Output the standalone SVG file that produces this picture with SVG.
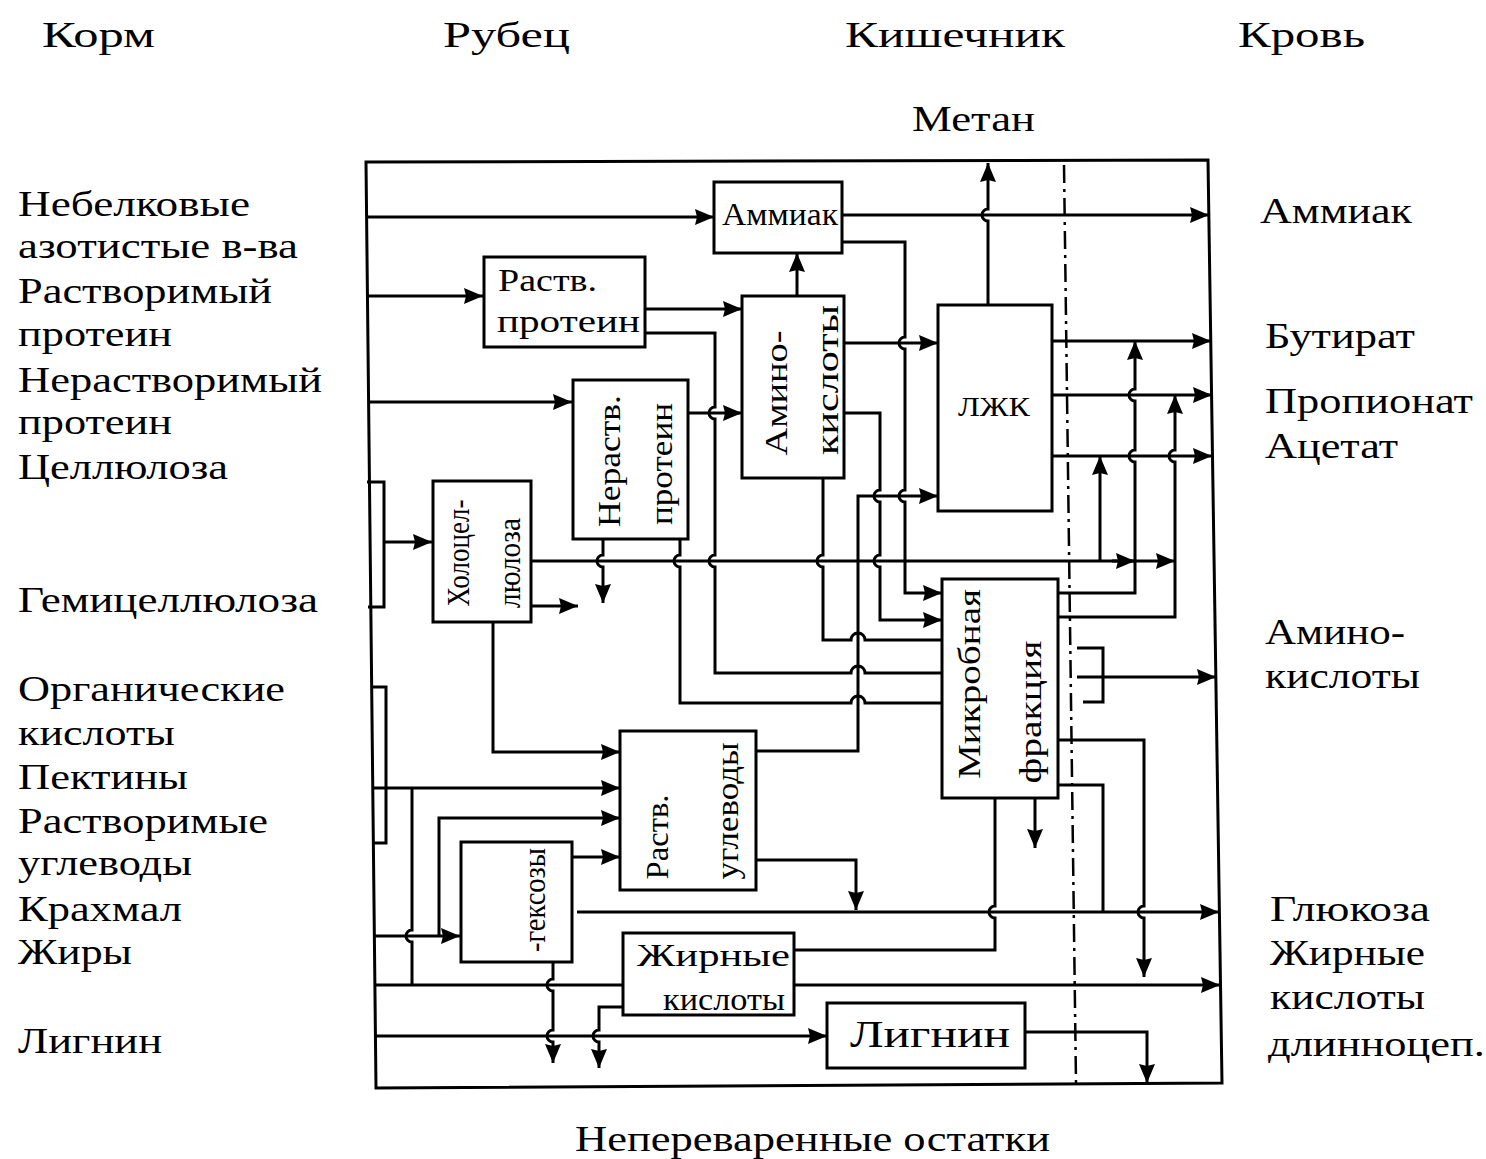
<svg xmlns="http://www.w3.org/2000/svg" width="1486" height="1159" viewBox="0 0 1486 1159">
<style>
text{font-family:"Liberation Serif","Times New Roman",serif;fill:#000}
.lbl{font-size:36px}
.bx{font-size:32px}
.box{fill:#fff;stroke:#000;stroke-width:3}
.c{fill:none;stroke:#000;stroke-width:3;stroke-linejoin:miter}
.a{marker-end:url(#ah)}
.frame{fill:none;stroke:#000;stroke-width:3}
.dash{fill:none;stroke:#000;stroke-width:2.5;stroke-dasharray:18 6 3 6}
</style>
<defs>
<marker id="ah" markerUnits="userSpaceOnUse" markerWidth="20" markerHeight="18" refX="19" refY="9" orient="auto">
<path d="M0,1 L19,9 L0,17 L2,9 z" fill="#000"/>
</marker>
</defs>
<rect width="1486" height="1159" fill="#fff"/>

<g id="headers">
<text class="lbl" x="42" y="47" textLength="113" lengthAdjust="spacingAndGlyphs">Корм</text>
<text class="lbl" x="443" y="47" textLength="127" lengthAdjust="spacingAndGlyphs">Рубец</text>
<text class="lbl" x="845" y="47" textLength="220" lengthAdjust="spacingAndGlyphs">Кишечник</text>
<text class="lbl" x="1238" y="47" textLength="127" lengthAdjust="spacingAndGlyphs">Кровь</text>
<text class="lbl" x="912" y="131" textLength="123" lengthAdjust="spacingAndGlyphs">Метан</text>
<text class="lbl" x="575" y="1151" textLength="475" lengthAdjust="spacingAndGlyphs">Непереваренные остатки</text>
</g>

<g id="feed-labels">
<text class="lbl" x="18" y="216" textLength="232" lengthAdjust="spacingAndGlyphs">Небелковые</text>
<text class="lbl" x="18" y="258" textLength="280" lengthAdjust="spacingAndGlyphs">азотистые в-ва</text>
<text class="lbl" x="18" y="303" textLength="254" lengthAdjust="spacingAndGlyphs">Растворимый</text>
<text class="lbl" x="18" y="346" textLength="154" lengthAdjust="spacingAndGlyphs">протеин</text>
<text class="lbl" x="18" y="392" textLength="304" lengthAdjust="spacingAndGlyphs">Нерастворимый</text>
<text class="lbl" x="18" y="434" textLength="154" lengthAdjust="spacingAndGlyphs">протеин</text>
<text class="lbl" x="18" y="479" textLength="210" lengthAdjust="spacingAndGlyphs">Целлюлоза</text>
<text class="lbl" x="18" y="612" textLength="300" lengthAdjust="spacingAndGlyphs">Гемицеллюлоза</text>
<text class="lbl" x="18" y="701" textLength="267" lengthAdjust="spacingAndGlyphs">Органические</text>
<text class="lbl" x="18" y="745" textLength="157" lengthAdjust="spacingAndGlyphs">кислоты</text>
<text class="lbl" x="18" y="789" textLength="170" lengthAdjust="spacingAndGlyphs">Пектины</text>
<text class="lbl" x="18" y="833" textLength="250" lengthAdjust="spacingAndGlyphs">Растворимые</text>
<text class="lbl" x="18" y="875" textLength="174" lengthAdjust="spacingAndGlyphs">углеводы</text>
<text class="lbl" x="18" y="921" textLength="164" lengthAdjust="spacingAndGlyphs">Крахмал</text>
<text class="lbl" x="18" y="964" textLength="114" lengthAdjust="spacingAndGlyphs">Жиры</text>
<text class="lbl" x="18" y="1053" textLength="144" lengthAdjust="spacingAndGlyphs">Лигнин</text>
</g>

<g id="blood-labels">
<text class="lbl" x="1260" y="223" textLength="152" lengthAdjust="spacingAndGlyphs">Аммиак</text>
<text class="lbl" x="1265" y="348" textLength="150" lengthAdjust="spacingAndGlyphs">Бутират</text>
<text class="lbl" x="1265" y="413" textLength="208" lengthAdjust="spacingAndGlyphs">Пропионат</text>
<text class="lbl" x="1265" y="458" textLength="133" lengthAdjust="spacingAndGlyphs">Ацетат</text>
<text class="lbl" x="1265" y="644" textLength="140" lengthAdjust="spacingAndGlyphs">Амино-</text>
<text class="lbl" x="1265" y="688" textLength="155" lengthAdjust="spacingAndGlyphs">кислоты</text>
<text class="lbl" x="1270" y="921" textLength="160" lengthAdjust="spacingAndGlyphs">Глюкоза</text>
<text class="lbl" x="1270" y="965" textLength="155" lengthAdjust="spacingAndGlyphs">Жирные</text>
<text class="lbl" x="1270" y="1009" textLength="155" lengthAdjust="spacingAndGlyphs">кислоты</text>
<text class="lbl" x="1268" y="1056" textLength="217" lengthAdjust="spacingAndGlyphs">длинноцеп.</text>
</g>

<g id="frame">
<path class="frame" d="M366,162 L1208,160 L1222,1083 L376,1088 Z"/>
<path class="dash" d="M1064,165 L1076,1083"/>
</g>

<g id="connectors">
<path class="c a" d="M366,217 H714"/>
<path class="c a" d="M842,215 H1209"/>
<path class="c a" d="M367,296 H483"/>
<path class="c a" d="M368,402 H572"/>
<path class="c" d="M367,482 H384 V607 H368"/>
<path class="c a" d="M384,542 H432"/>
<path class="c" d="M371,687 H386 V843 H373"/>
<path class="c a" d="M372,788 H620"/>
<path class="c" d="M412,788 V930 A6,6 0 0 0 412,942 V985"/>
<path class="c a" d="M375,936 H460"/>
<path class="c a" d="M439,936 V818 H620"/>
<path class="c" d="M376,985 H623"/>
<path class="c a" d="M572,857 H620"/>
<path class="c a" d="M577,912 H1219"/>
<path class="c a" d="M553,962 V979 A6,6 0 0 0 553,991 V1030 A6,6 0 0 0 553,1042 V1063"/>
<path class="c a" d="M623,1007 H599 V1030 A6,6 0 0 0 599,1042 V1068"/>
<path class="c a" d="M376,1036 H827"/>
<path class="c a" d="M1025,1032 H1147 V1083"/>
<path class="c a" d="M493,622 V752 H620"/>
<path class="c a" d="M531,606 H578"/>
<path class="c a" d="M531,561 H1175"/>
<path class="c a" d="M1112,561 H1135"/>
<path class="c a" d="M603,539 V555 A6,6 0 0 0 603,567 V603"/>
<path class="c" d="M680,539 V555 A6,6 0 0 0 680,567 V703 H851 A7,7 0 0 1 865,703 H942"/>
<path class="c" d="M645,333 H715 V407 A6,6 0 0 0 715,419 V555 A6,6 0 0 0 715,567 V673 H851 A7,7 0 0 1 865,673 H942"/>
<path class="c a" d="M645,309 H742"/>
<path class="c a" d="M688,413 H742"/>
<path class="c a" d="M797,296 V253"/>
<path class="c a" d="M844,343 H938"/>
<path class="c a" d="M842,242 H905 V337 A6,6 0 0 0 905,349 V490 A6,6 0 0 0 905,502 V593 H942"/>
<path class="c a" d="M844,413 H880 V490 A6,6 0 0 0 880,502 V555 A6,6 0 0 0 880,567 V620 H942"/>
<path class="c" d="M823,478 V555 A6,6 0 0 0 823,567 V640 H851 A7,7 0 0 1 865,640 H942"/>
<path class="c a" d="M756,751 H858 V496 H938"/>
<path class="c a" d="M756,860 H856 V910"/>
<path class="c a" d="M988,305 V221 A6,6 0 0 1 988,209 V163"/>
<path class="c a" d="M1052,341 H1211"/>
<path class="c a" d="M1052,395 H1212"/>
<path class="c a" d="M1052,456 H1212"/>
<path class="c a" d="M1058,593 H1135 V462 A6,6 0 0 1 1135,450 V401 A6,6 0 0 1 1135,389 V341"/>
<path class="c a" d="M1058,617 H1175 V462 A6,6 0 0 1 1175,450 V395"/>
<path class="c a" d="M1100,561 V456"/>
<path class="c" d="M1077,648 H1103 V702 H1083"/>
<path class="c a" d="M1077,677 H1216"/>
<path class="c a" d="M1035,798 V848"/>
<path class="c" d="M794,950 H995 V918 A6,6 0 0 1 995,906 V798"/>
<path class="c a" d="M1058,740 H1144 V906 A6,6 0 0 0 1144,918 V977"/>
<path class="c" d="M1058,785 H1103 V912"/>
<path class="c a" d="M794,985 H1220"/>
</g>

<g id="n-ammiak">
<rect class="box" x="714" y="182" width="128" height="71"/>
<text class="bx" x="722" y="225" textLength="116" lengthAdjust="spacingAndGlyphs">Аммиак</text>
</g>
<g id="n-rastv-protein">
<rect class="box" x="484" y="257" width="161" height="90"/>
<text class="bx" x="498" y="291" textLength="99" lengthAdjust="spacingAndGlyphs">Раств.</text>
<text class="bx" x="497" y="332" textLength="143" lengthAdjust="spacingAndGlyphs">протеин</text>
</g>
<g id="n-aminokisloty">
<rect class="box" x="742" y="296" width="102" height="182"/>
<text class="bx" transform="translate(777,393) rotate(-90)" x="0" y="10" text-anchor="middle" textLength="125" lengthAdjust="spacingAndGlyphs">Амино-</text>
<text class="bx" transform="translate(828,380) rotate(-90)" x="0" y="10" text-anchor="middle" textLength="150" lengthAdjust="spacingAndGlyphs">кислоты</text>
</g>
<g id="n-nerastv-protein">
<rect class="box" x="573" y="380" width="115" height="159"/>
<text class="bx" transform="translate(610,461) rotate(-90)" x="0" y="10" text-anchor="middle" textLength="132" lengthAdjust="spacingAndGlyphs">Нераств.</text>
<text class="bx" transform="translate(662,464) rotate(-90)" x="0" y="10" text-anchor="middle" textLength="122" lengthAdjust="spacingAndGlyphs">протеин</text>
</g>
<g id="n-lzhk">
<rect class="box" x="938" y="305" width="114" height="206"/>
<text class="bx" x="958" y="416" style="font-size:28px" textLength="72" lengthAdjust="spacingAndGlyphs">ЛЖК</text>
</g>
<g id="n-holocellulose">
<rect class="box" x="433" y="481" width="98" height="141"/>
<text class="bx" transform="translate(459,553) rotate(-90)" x="0" y="10" text-anchor="middle" textLength="107" lengthAdjust="spacingAndGlyphs">Холоцел-</text>
<text class="bx" transform="translate(510,563) rotate(-90)" x="0" y="10" text-anchor="middle" textLength="90" lengthAdjust="spacingAndGlyphs">люлоза</text>
</g>
<g id="n-microbial">
<rect class="box" x="942" y="579" width="116" height="219"/>
<text class="bx" transform="translate(970,684) rotate(-90)" x="0" y="10" text-anchor="middle" textLength="190" lengthAdjust="spacingAndGlyphs">Микробная</text>
<text class="bx" transform="translate(1031,712) rotate(-90)" x="0" y="10" text-anchor="middle" textLength="143" lengthAdjust="spacingAndGlyphs">фракция</text>
</g>
<g id="n-rastv-uglevody">
<rect class="box" x="620" y="731" width="136" height="159"/>
<text class="bx" transform="translate(658,837) rotate(-90)" x="0" y="10" text-anchor="middle" textLength="85" lengthAdjust="spacingAndGlyphs">Раств.</text>
<text class="bx" transform="translate(728,811) rotate(-90)" x="0" y="10" text-anchor="middle" textLength="137" lengthAdjust="spacingAndGlyphs">углеводы</text>
</g>
<g id="n-geksozy">
<rect class="box" x="461" y="842" width="111" height="120"/>
<text class="bx" transform="translate(535,900) rotate(-90)" x="0" y="10" text-anchor="middle" textLength="104" lengthAdjust="spacingAndGlyphs">-гексозы</text>
</g>
<g id="n-zhirnye-kisloty">
<rect class="box" x="623" y="933" width="171" height="82"/>
<text class="bx" x="637" y="966" textLength="153" lengthAdjust="spacingAndGlyphs">Жирные</text>
<text class="bx" x="663" y="1010" textLength="122" lengthAdjust="spacingAndGlyphs">кислоты</text>
</g>
<g id="n-lignin">
<rect class="box" x="827" y="1003" width="198" height="65"/>
<text class="bx" x="850" y="1047" style="font-size:38px" textLength="160" lengthAdjust="spacingAndGlyphs">Лигнин</text>
</g>
</svg>
